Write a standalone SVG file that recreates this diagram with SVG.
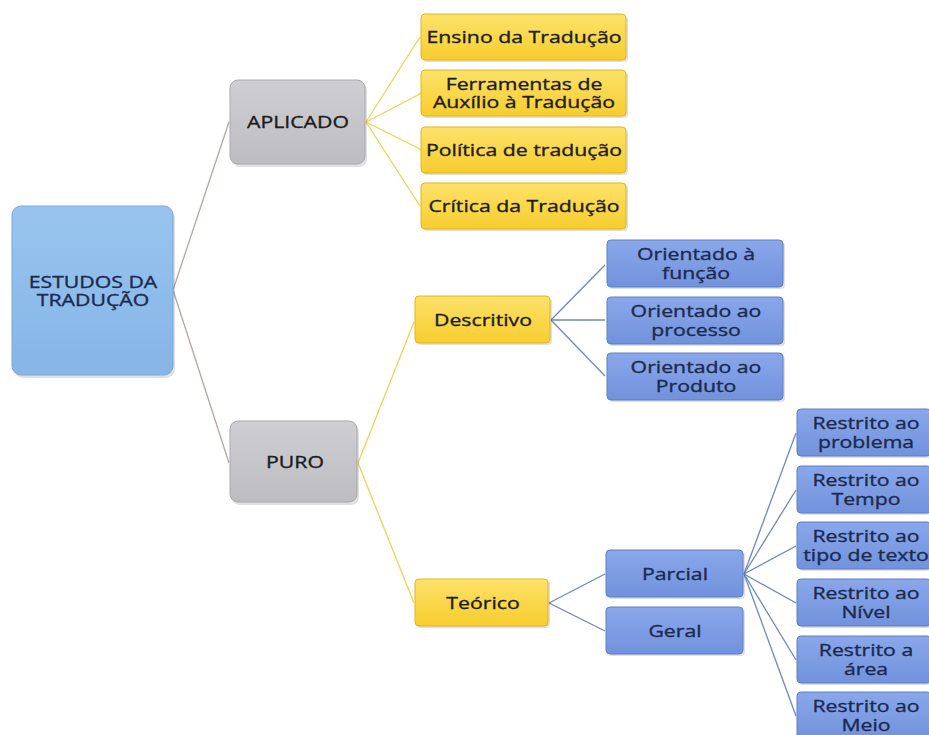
<svg xmlns="http://www.w3.org/2000/svg" width="929" height="735" viewBox="0 0 929 735">
<style>
.t{font-family:"Open Sans","Liberation Sans",sans-serif;font-size:17px;text-anchor:middle;stroke-width:0.35}
.dk{fill:#1c1c1c;stroke:#1c1c1c}
.nv{fill:#1b2a4e;stroke:#1b2a4e}
.y rect.b{fill:url(#gy);stroke:#e3b61e;stroke-width:1}
.bl rect.b{fill:url(#gb);stroke:#5f7fc4;stroke-width:1}
.gr rect.b{fill:url(#gg);stroke:#a9a8ad;stroke-width:1}
.rt rect.b{fill:url(#gr);stroke:#7aa7d8;stroke-width:1}
.sh{fill:#000;opacity:0.12}
#connectors path{fill:none;stroke-width:1.3}
.c0{stroke:#b5a89e}
.c1{stroke:#f0d257}
.c2{stroke:#6d89bf}
</style>
<defs>
<linearGradient id="gy" x1="0" y1="0" x2="0" y2="1"><stop offset="0" stop-color="#fde26a"/><stop offset="1" stop-color="#f7cd2e"/></linearGradient>
<linearGradient id="gb" x1="0" y1="0" x2="0" y2="1"><stop offset="0" stop-color="#8aa7ea"/><stop offset="1" stop-color="#7192dc"/></linearGradient>
<linearGradient id="gg" x1="0" y1="0" x2="0" y2="1"><stop offset="0" stop-color="#cfced3"/><stop offset="1" stop-color="#bdbcc1"/></linearGradient>
<linearGradient id="gr" x1="0" y1="0" x2="0" y2="1"><stop offset="0" stop-color="#98c4ef"/><stop offset="1" stop-color="#86b5e6"/></linearGradient>
</defs>
<rect width="929" height="735" fill="#ffffff"/>
<g id="connectors">
<path class="c0" d="M173 290 L229 122"/>
<path class="c0" d="M173 290 L229 463"/>
<path class="c1" d="M366 122 L418 40 Q420 37 422 37"/>
<path class="c1" d="M366 122 L418 95 Q420 93 422 93"/>
<path class="c1" d="M366 122 L418 148 Q420 150 422 150"/>
<path class="c1" d="M366 122 L418 203 Q420 206 422 206"/>
<path class="c1" d="M358 463 L414 322"/>
<path class="c1" d="M358 463 L414 603"/>
<path class="c2" d="M551 320 L605 265"/>
<path class="c2" d="M551 320 L605 320"/>
<path class="c2" d="M551 320 L605 376"/>
<path class="c2" d="M549 603 L605 574"/>
<path class="c2" d="M549 603 L605 631"/>
<path class="c2" d="M744 574 L796 433"/>
<path class="c2" d="M744 574 L796 490"/>
<path class="c2" d="M744 574 L796 546"/>
<path class="c2" d="M744 574 L796 603"/>
<path class="c2" d="M744 574 L796 660"/>
<path class="c2" d="M744 574 L796 716"/>
</g>
<g id="root" class="rt"><rect class="sh" x="14" y="209" width="161" height="169" rx="9"/><rect class="b" x="12" y="206" width="161" height="169" rx="9"/><text class="t nv" transform="matrix(1.25 0 0 1 93 0)" y="288">ESTUDOS DA</text><text class="t nv" transform="matrix(1.25 0 0 1 93 0)" y="306">TRADUÇÃO</text></g>
<g id="aplicado" class="gr"><rect class="sh" x="232" y="83" width="135" height="84" rx="8"/><rect class="b" x="230" y="80" width="135" height="84" rx="8"/><text class="t dk" transform="matrix(1.25 0 0 1 298 0)" y="128">APLICADO</text></g>
<g id="puro" class="gr"><rect class="sh" x="232" y="424" width="127" height="81" rx="8"/><rect class="b" x="230" y="421" width="127" height="81" rx="8"/><text class="t dk" transform="matrix(1.25 0 0 1 295 0)" y="468">PURO</text></g>
<g id="ensino" class="y"><rect class="sh" x="423" y="16" width="205" height="46" rx="4"/><rect class="b" x="421" y="14" width="205" height="46" rx="4"/><text class="t dk" transform="matrix(1.25 0 0 1 524 0)" y="43">Ensino da Tradução</text></g>
<g id="ferramentas" class="y"><rect class="sh" x="423" y="72" width="205" height="46" rx="4"/><rect class="b" x="421" y="70" width="205" height="46" rx="4"/><text class="t dk" transform="matrix(1.25 0 0 1 524 0)" y="90">Ferramentas de</text><text class="t dk" transform="matrix(1.25 0 0 1 524 0)" y="108">Auxílio à Tradução</text></g>
<g id="politica" class="y"><rect class="sh" x="423" y="129" width="205" height="46" rx="4"/><rect class="b" x="421" y="127" width="205" height="46" rx="4"/><text class="t dk" transform="matrix(1.25 0 0 1 524 0)" y="156">Política de tradução</text></g>
<g id="critica" class="y"><rect class="sh" x="423" y="185" width="205" height="46" rx="4"/><rect class="b" x="421" y="183" width="205" height="46" rx="4"/><text class="t dk" transform="matrix(1.25 0 0 1 524 0)" y="212">Crítica da Tradução</text></g>
<g id="descritivo" class="y"><rect class="sh" x="417" y="298" width="135" height="47" rx="4"/><rect class="b" x="415" y="296" width="135" height="47" rx="4"/><text class="t dk" transform="matrix(1.25 0 0 1 483 0)" y="326">Descritivo</text></g>
<g id="teorico" class="y"><rect class="sh" x="417" y="581" width="133" height="47" rx="4"/><rect class="b" x="415" y="579" width="133" height="47" rx="4"/><text class="t dk" transform="matrix(1.25 0 0 1 483 0)" y="609">Teórico</text></g>
<g id="funcao" class="bl"><rect class="sh" x="609" y="242" width="176" height="47" rx="4"/><rect class="b" x="607" y="240" width="176" height="47" rx="4"/><text class="t nv" transform="matrix(1.25 0 0 1 696 0)" y="260">Orientado à</text><text class="t nv" transform="matrix(1.25 0 0 1 696 0)" y="279">função</text></g>
<g id="processo" class="bl"><rect class="sh" x="609" y="299" width="176" height="47" rx="4"/><rect class="b" x="607" y="297" width="176" height="47" rx="4"/><text class="t nv" transform="matrix(1.25 0 0 1 696 0)" y="317">Orientado ao</text><text class="t nv" transform="matrix(1.25 0 0 1 696 0)" y="336">processo</text></g>
<g id="produto" class="bl"><rect class="sh" x="609" y="355" width="176" height="47" rx="4"/><rect class="b" x="607" y="353" width="176" height="47" rx="4"/><text class="t nv" transform="matrix(1.25 0 0 1 696 0)" y="373">Orientado ao</text><text class="t nv" transform="matrix(1.25 0 0 1 696 0)" y="392">Produto</text></g>
<g id="parcial" class="bl"><rect class="sh" x="608" y="552" width="137" height="47" rx="4"/><rect class="b" x="606" y="550" width="137" height="47" rx="4"/><text class="t nv" transform="matrix(1.25 0 0 1 675 0)" y="580">Parcial</text></g>
<g id="geral" class="bl"><rect class="sh" x="608" y="609" width="137" height="47" rx="4"/><rect class="b" x="606" y="607" width="137" height="47" rx="4"/><text class="t nv" transform="matrix(1.25 0 0 1 675 0)" y="637">Geral</text></g>
<g id="problema" class="bl"><rect class="sh" x="799" y="411" width="134" height="47" rx="4"/><rect class="b" x="797" y="409" width="134" height="47" rx="4"/><text class="t nv" transform="matrix(1.25 0 0 1 866 0)" y="429">Restrito ao</text><text class="t nv" transform="matrix(1.25 0 0 1 866 0)" y="448">problema</text></g>
<g id="tempo" class="bl"><rect class="sh" x="799" y="468" width="134" height="47" rx="4"/><rect class="b" x="797" y="466" width="134" height="47" rx="4"/><text class="t nv" transform="matrix(1.25 0 0 1 866 0)" y="486">Restrito ao</text><text class="t nv" transform="matrix(1.25 0 0 1 866 0)" y="505">Tempo</text></g>
<g id="tipo" class="bl"><rect class="sh" x="799" y="524" width="134" height="47" rx="4"/><rect class="b" x="797" y="522" width="134" height="47" rx="4"/><text class="t nv" transform="matrix(1.25 0 0 1 866 0)" y="542">Restrito ao</text><text class="t nv" transform="matrix(1.25 0 0 1 866 0)" y="561">tipo de texto</text></g>
<g id="nivel" class="bl"><rect class="sh" x="799" y="581" width="134" height="47" rx="4"/><rect class="b" x="797" y="579" width="134" height="47" rx="4"/><text class="t nv" transform="matrix(1.25 0 0 1 866 0)" y="599">Restrito ao</text><text class="t nv" transform="matrix(1.25 0 0 1 866 0)" y="618">Nível</text></g>
<g id="area" class="bl"><rect class="sh" x="799" y="638" width="134" height="47" rx="4"/><rect class="b" x="797" y="636" width="134" height="47" rx="4"/><text class="t nv" transform="matrix(1.25 0 0 1 866 0)" y="656">Restrito a</text><text class="t nv" transform="matrix(1.25 0 0 1 866 0)" y="675">área</text></g>
<g id="meio" class="bl"><rect class="sh" x="799" y="694" width="134" height="47" rx="4"/><rect class="b" x="797" y="692" width="134" height="47" rx="4"/><text class="t nv" transform="matrix(1.25 0 0 1 866 0)" y="712">Restrito ao</text><text class="t nv" transform="matrix(1.25 0 0 1 866 0)" y="731">Meio</text></g>
</svg>
